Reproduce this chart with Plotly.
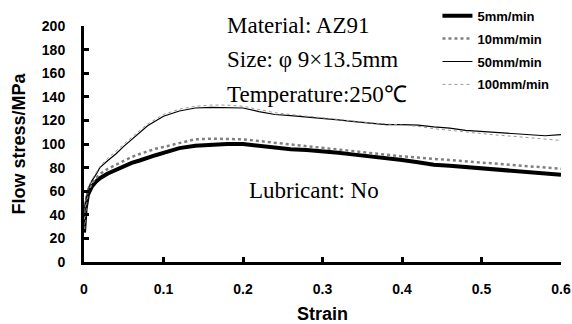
import plotly.graph_objects as go

strain = [0, 0.002, 0.005, 0.01, 0.015, 0.02, 0.03, 0.04, 0.05, 0.06, 0.07, 0.08, 0.09,
          0.10, 0.12, 0.14, 0.16, 0.18, 0.20, 0.22, 0.24, 0.26, 0.28, 0.30, 0.32, 0.34,
          0.36, 0.38, 0.40, 0.42, 0.44, 0.46, 0.48, 0.50, 0.52, 0.54, 0.56, 0.58, 0.60]

s5 = [25, 45, 57, 64, 68, 71, 75, 78, 81, 84, 86, 88.5, 90.5,
      92.5, 96.5, 98.5, 99.5, 100, 100, 98.5, 96.5, 95.5, 95, 94, 92.5, 91,
      89.5, 88.5, 86.5, 84.5, 82.5, 81.5, 80.5, 79.5, 78, 77, 76, 75, 74]

s10 = [28, 48, 60, 67, 71, 74.5, 79, 82.5, 86, 89, 91.5, 94, 96,
       97.5, 101, 104, 104.5, 104.5, 104, 102.5, 101, 99.5, 98, 96.5, 95, 93.5,
       92, 91, 89.5, 88.5, 87.5, 86.5, 85, 84, 83, 82, 81, 80, 79]

s50 = [30, 50, 62, 69, 74, 80, 86, 91.5, 98, 104, 110, 115.5, 119.5,
       123.5, 128, 130.5, 131, 131, 130.5, 127.5, 125, 124, 123, 122, 120.5, 119,
       118, 116.5, 116.5, 116, 114.5, 113.5, 111.5, 110.5, 109.5, 108.5, 107.5, 107, 108]

s100 = [31, 51, 63, 70, 75.5, 81, 88, 94, 100, 106, 111.5, 117, 121,
        125, 129.5, 132, 133, 133, 132, 129, 126.5, 125, 123.5, 122.5, 121, 119.5,
        118, 117, 116, 115, 113, 111.5, 110.5, 109, 107.5, 106.5, 105.5, 104.5, 103]

series_names = ["5mm/min", "10mm/min", "50mm/min", "100mm/min"]
x_ticks = [0, 0.1, 0.2, 0.3, 0.4, 0.5, 0.6]
x_tick_labels = ["0", "0.1", "0.2", "0.3", "0.4", "0.5", "0.6"]
y_ticks = list(range(0, 201, 20))

styles = [
    dict(color="black", width=4, dash="solid"),
    dict(color="#808080", width=2.5, dash="dot"),
    dict(color="black", width=1.2, dash="solid"),
    dict(color="#9a9a9a", width=1, dash="dot"),
]

fig = go.Figure()
for name, ys, st, g in zip(series_names, [s5, s10, s50, s100], styles, range(4)):
    fig.add_trace(go.Scatter(x=strain, y=ys, mode="lines", name=name, line=st,
                             legendgroup=str(g)))

sans = "Liberation Sans, Arial, sans-serif"
axis_font = dict(family=sans, size=14, color="black", weight="bold")
fig.update_layout(
    width=572, height=324,
    margin=dict(l=84, r=11, t=26, b=62, autoexpand=False),
    paper_bgcolor="white", plot_bgcolor="white",
    font=dict(family=sans, color="black"),
    showlegend=True,
    legend=dict(x=0.741, y=1.107, xanchor="left", yanchor="top",
                bgcolor="rgba(0,0,0,0)", tracegroupgap=3,
                font=dict(family=sans, size=13, color="black", weight="bold"),
                itemwidth=30),
    xaxis=dict(range=[0, 0.6], tickvals=x_ticks, ticktext=x_tick_labels, automargin=False,
               showline=True, linecolor="black", linewidth=3, ticks="inside",
               ticklen=5, tickwidth=2.5, tickcolor="black", showgrid=False, zeroline=False,
               tickfont=axis_font, ticklabelstandoff=12),
    yaxis=dict(range=[0, 200], tickvals=y_ticks, automargin=False,
               showline=True, linecolor="black", linewidth=3, ticks="inside",
               ticklen=5, tickwidth=2.5, tickcolor="black", showgrid=False, zeroline=False,
               tickfont=axis_font, ticklabelstandoff=13,
               title=dict(text="Flow stress/MPa", font=dict(family=sans, size=18, color="black",
                                                              weight="bold"),
                          standoff=12)),
)

fig.add_annotation(text="<b>Strain</b>", x=0.499, y=-0.220, xref="paper", yref="paper",
                   xanchor="center", yanchor="middle", showarrow=False,
                   font=dict(family=sans, size=18, color="black"))

serif = dict(family="Liberation Serif, Times New Roman, serif", size=23, color="black")
notes = [
    ("Material: AZ91", 0.296, 1.004),
    ("Size: φ 9×13.5mm", 0.296, 0.856),
    ("Temperature:250℃", 0.296, 0.708),
    ("Lubricant: No", 0.342, 0.305),
]
for txt, xp, yp in notes:
    fig.add_annotation(text=txt, x=xp, y=yp, xref="paper", yref="paper",
                       xanchor="left", yanchor="middle", showarrow=False, font=serif)

fig.write_html("out.html", config={"displayModeBar": False},
               post_script="document.body.style.margin='0';document.body.style.overflow='hidden';")
